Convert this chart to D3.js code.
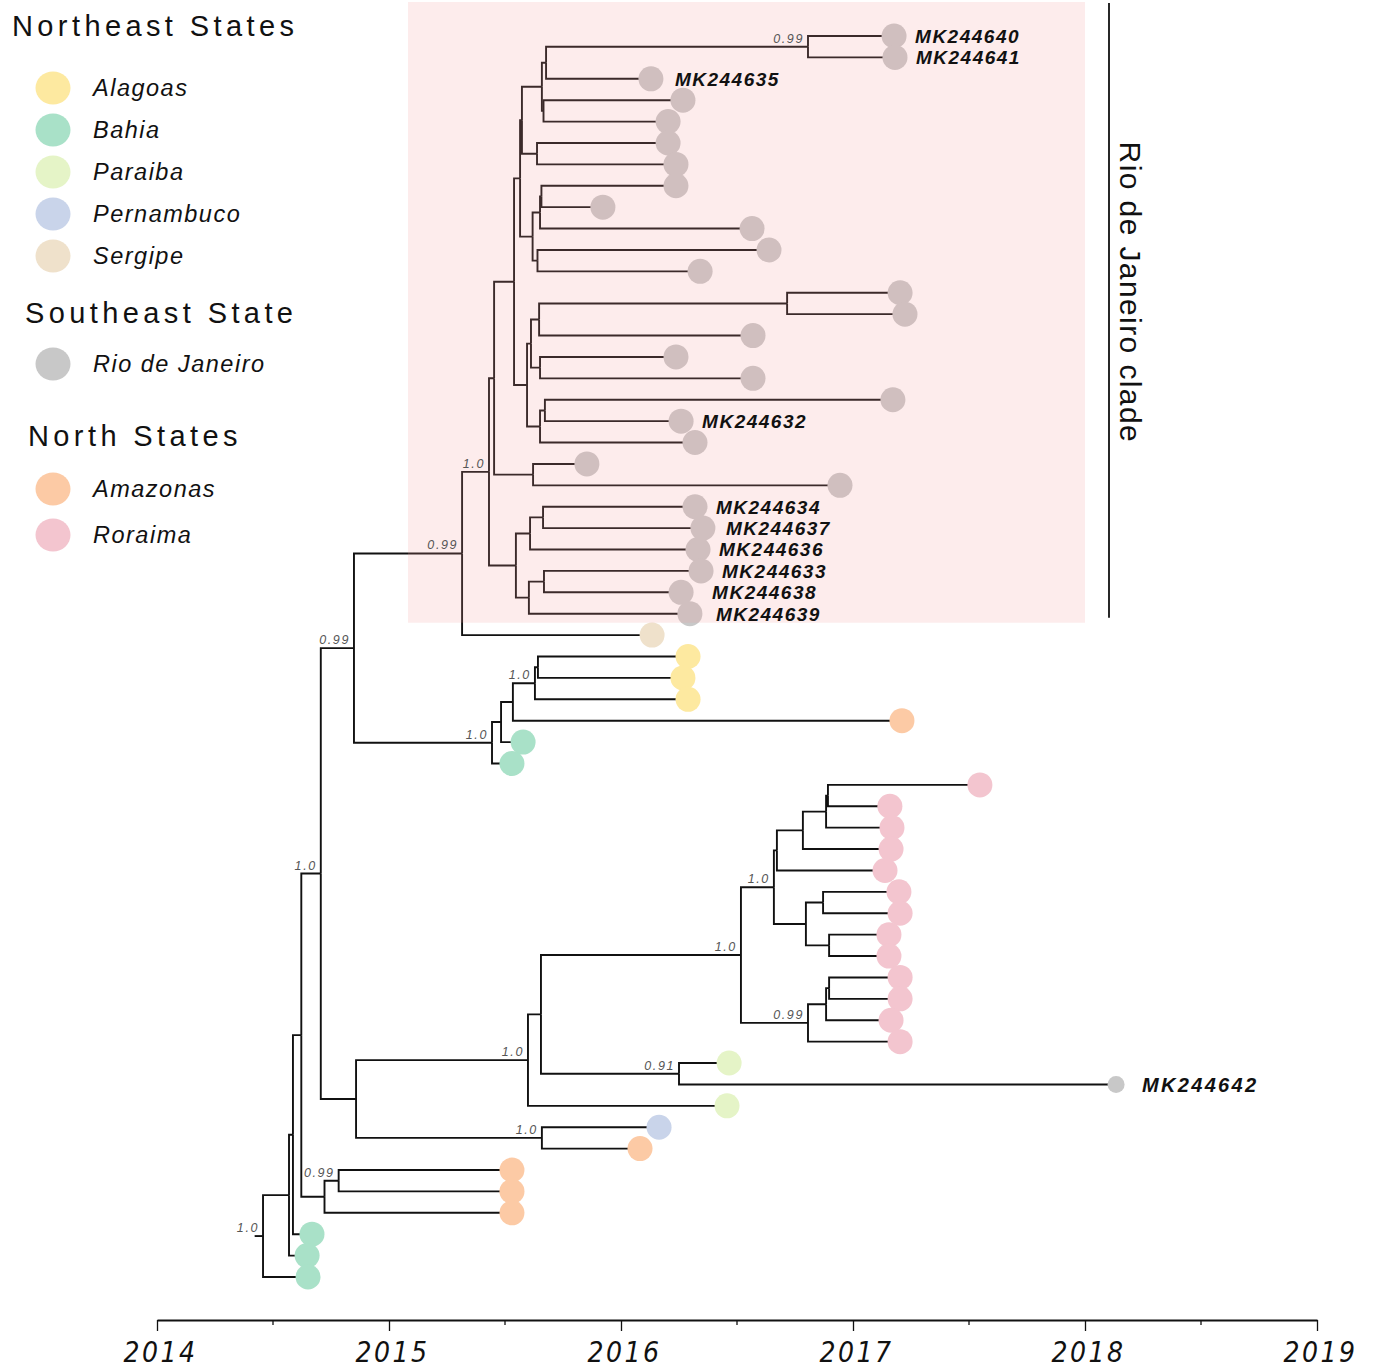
<!DOCTYPE html>
<html>
<head>
<meta charset="utf-8">
<script src="https://cdnjs.cloudflare.com/ajax/libs/d3/7.8.5/d3.min.js"></script>
<style>
  body { margin: 0; background: #fff; }
  svg { display: block; }
</style>
</head>
<body>
<script>
// sampling dates of the tips (decimal years), in drawing order top -> bottom
const tipYears = [
  2017.177, 2017.181, 2016.129, 2016.267, 2016.203, 2016.203, 2016.237, 2016.237,
  2015.922, 2016.565, 2016.638, 2016.341, 2017.203, 2017.224, 2016.569, 2016.237,
  2016.569, 2017.172, 2016.259, 2016.319, 2015.853, 2016.944, 2016.319, 2016.353,
  2016.332, 2016.345, 2016.259, 2016.297, 2016.134, 2016.289, 2016.267, 2016.289,
  2017.211, 2015.578, 2015.530, 2017.547, 2017.159, 2017.168, 2017.164, 2017.138,
  2017.198, 2017.203, 2017.155, 2017.155, 2017.203, 2017.203, 2017.164, 2017.203,
  2016.466, 2018.134, 2016.457, 2016.164, 2016.082, 2015.530, 2015.530, 2015.530,
  2014.668, 2014.647, 2014.651
]

const RJ = "Rio de Janeiro"
const tipStates = [
  RJ, RJ, RJ, RJ, RJ, RJ, RJ, RJ, RJ, RJ, RJ, RJ, RJ, RJ, RJ, RJ, RJ, RJ, RJ, RJ,
  RJ, RJ, RJ, RJ, RJ, RJ, RJ, RJ,
  "Sergipe", "Alagoas", "Alagoas", "Alagoas", "Amazonas", "Bahia", "Bahia",
  "Roraima", "Roraima", "Roraima", "Roraima", "Roraima", "Roraima", "Roraima",
  "Roraima", "Roraima", "Roraima", "Roraima", "Roraima", "Roraima",
  "Paraiba", RJ, "Paraiba", "Pernambuco", "Amazonas",
  "Amazonas", "Amazonas", "Amazonas", "Bahia", "Bahia", "Bahia"
]

const tipNames = [
  "MK244640", "MK244641", "MK244635", "", "", "", "", "", "", "", "", "", "", "", "", "", "", "",
  "MK244632", "", "", "", "MK244634", "MK244637", "MK244636", "MK244633", "MK244638", "MK244639",
  "", "", "", "", "", "", "", "", "", "", "", "", "", "", "", "", "", "", "", "",
  "", "MK244642", "", "", "", "", "", "", "", "", ""
]

// internal nodes: id, first child, second child, node date, posterior
const cladeRows = [
  ["a1", "t1", "t2", 2016.806, "0.99"],
  ["a2", "a1", "t3", 2015.677, ""],
  ["a3", "t4", "t5", 2015.666, ""],
  ["a4", "a2", "a3", 2015.659, ""],
  ["a5", "t6", "t7", 2015.638, ""],
  ["a6", "a4", "a5", 2015.573, ""],
  ["a7", "t8", "t9", 2015.657, ""],
  ["a8", "a7", "t10", 2015.651, ""],
  ["a9", "t11", "t12", 2015.640, ""],
  ["a10", "a8", "a9", 2015.619, ""],
  ["a11", "a6", "a10", 2015.565, ""],
  ["b1", "t13", "t14", 2016.716, ""],
  ["b2", "b1", "t15", 2015.647, ""],
  ["b3", "t16", "t17", 2015.651, ""],
  ["b4", "b2", "b3", 2015.612, ""],
  ["b5", "t18", "t19", 2015.672, ""],
  ["b6", "b5", "t20", 2015.651, ""],
  ["b7", "b4", "b6", 2015.595, ""],
  ["c1", "a11", "b7", 2015.539, ""],
  ["c2", "t21", "t22", 2015.621, ""],
  ["c3", "c1", "c2", 2015.453, ""],
  ["d1", "t23", "t24", 2015.664, ""],
  ["d2", "d1", "t25", 2015.608, ""],
  ["d3", "t26", "t27", 2015.668, ""],
  ["d4", "d3", "t28", 2015.603, ""],
  ["d5", "d2", "d4", 2015.547, ""],
  ["rj", "c3", "d5", 2015.431, "1.0"],
  ["e1", "rj", "t29", 2015.315, "0.99"],
  ["f1", "t30", "t31", 2015.642, ""],
  ["f2", "f1", "t32", 2015.629, "1.0"],
  ["f3", "f2", "t33", 2015.534, ""],
  ["f4", "f3", "t34", 2015.483, ""],
  ["f5", "f4", "t35", 2015.444, "1.0"],
  ["g1", "e1", "f5", 2014.849, "0.99"],
  ["h1", "t36", "t37", 2016.892, ""],
  ["h2", "h1", "t38", 2016.884, ""],
  ["h3", "h2", "t39", 2016.784, ""],
  ["h4", "h3", "t40", 2016.672, ""],
  ["h5", "t41", "t42", 2016.871, ""],
  ["h6", "t43", "t44", 2016.897, ""],
  ["h7", "h5", "h6", 2016.797, ""],
  ["h8", "h4", "h7", 2016.659, "1.0"],
  ["h9", "t45", "t46", 2016.897, ""],
  ["h10", "h9", "t47", 2016.884, ""],
  ["h11", "h10", "t48", 2016.806, "0.99"],
  ["h12", "h8", "h11", 2016.517, "1.0"],
  ["i1", "t49", "t50", 2016.250, "0.91"],
  ["i2", "h12", "i1", 2015.655, ""],
  ["i3", "i2", "t51", 2015.599, "1.0"],
  ["i4", "t52", "t53", 2015.659, "1.0"],
  ["i5", "i3", "i4", 2014.858, ""],
  ["j1", "g1", "i5", 2014.706, "1.0"],
  ["k1", "t54", "t55", 2014.783, "0.99"],
  ["k2", "k1", "t56", 2014.722, ""],
  ["k3", "j1", "k2", 2014.622, ""],
  ["k4", "k3", "t57", 2014.586, ""],
  ["k5", "k4", "t58", 2014.569, ""],
  ["root", "k5", "t59", 2014.457, "1.0"]
]
const rootStartYear = 2014.421

const yearTicks = [2014, 2015, 2016, 2017, 2018, 2019]
const halfYearTicks = [2014.5, 2015.5, 2016.5, 2017.5, 2018.5]

const northeastStates = ["Alagoas", "Bahia", "Paraiba", "Pernambuco", "Sergipe"]
const southeastStates = ["Rio de Janeiro"]
const northStates = ["Amazonas", "Roraima"]
const cladeTitle = "Rio de Janeiro clade"

const colors = {
  "Alagoas": "#fde9a0",
  "Bahia": "#a9e1c8",
  "Paraiba": "#e5f4c7",
  "Pernambuco": "#c9d4ea",
  "Sergipe": "#efe1cb",
  "Rio de Janeiro": "#c8c8c8",
  "Amazonas": "#fccaa5",
  "Roraima": "#f3c5cf"
}

const w = 1377
const h = 1369

const svg = d3.select("body")
  .append("svg")
  .attr("width", w)
  .attr("height", h)

const x = d3.scaleLinear().domain([2014, 2019]).range([157, 1317])
const row = d3.scaleLinear().domain([0, tipYears.length - 1]).range([36, 1277])

// building the tree
const byId = {}
tipYears.forEach((yr, i) => {
  byId["t" + (i + 1)] = { id: "t" + (i + 1), year: yr, state: tipStates[i], name: tipNames[i], row: i }
})
cladeRows.forEach(([id, a, b, yr, pp]) => {
  byId[id] = { id: id, year: yr, support: pp, children: [byId[a], byId[b]] }
})
const root = d3.hierarchy(byId["root"])
root.eachAfter(d => {
  d.px = x(d.data.year)
  if (d.children) {
    d.py = (d.children[0].py + d.children[d.children.length - 1].py) / 2
  } else {
    d.py = row(d.data.row)
  }
})

// clade box extent (rows of the Rio de Janeiro clade)
const rjNode = root.descendants().find(d => d.data.id === "rj")
const rjLeaves = rjNode.leaves()
const boxTop = rjLeaves[0].py - 34
const boxBottom = rjLeaves[rjLeaves.length - 1].py + 9

// branches
const branches = svg.append("g")
branches.selectAll("path")
  .data(root.links())
  .enter()
  .append("path")
  .attr("d", l => `M${l.source.px},${l.source.py}V${l.target.py}H${l.target.px}`)
  .attr("fill", "none")
  .attr("stroke", "#111")
  .attr("stroke-width", 1.9)

branches.append("path")
  .attr("d", `M${x(rootStartYear)},${root.py}H${root.px}`)
  .attr("stroke", "#111")
  .attr("stroke-width", 1.9)

// tips
const rjIds = new Set(rjLeaves.map(d => d.data.id))
svg.append("g")
  .selectAll("circle")
  .data(root.leaves())
  .enter()
  .append("circle")
  .attr("cx", d => d.px)
  .attr("cy", d => d.py)
  .attr("r", d => (d.data.state === RJ && !rjIds.has(d.data.id)) ? 8.5 : 12.5)
  .attr("fill", d => colors[d.data.state])

// pink clade shading on top
svg.append("rect")
  .attr("x", 408)
  .attr("y", boxTop)
  .attr("width", x(2018) - 408)
  .attr("height", boxBottom - boxTop)
  .attr("fill", "#f39c9c")
  .attr("opacity", 0.19)

svg.append("line")
  .attr("x1", 1109).attr("x2", 1109)
  .attr("y1", boxTop + 1).attr("y2", boxBottom - 5)
  .attr("stroke", "#111")
  .attr("stroke-width", 1.8)

svg.append("text")
  .attr("transform", `translate(1120, ${(boxTop + boxBottom) / 2 - 20}) rotate(90)`)
  .attr("text-anchor", "middle")
  .style("font-family", "'Liberation Sans', Arial, sans-serif")
  .style("font-size", "30px")
  .style("letter-spacing", "1.4px")
  .attr("fill", "#111")
  .text(cladeTitle)

// tip labels (a few sit a little further right in the original)
const labelNudge = { "MK244635": 3, "MK244637": 2, "MK244638": 10, "MK244639": 5 }
svg.append("g")
  .selectAll("text")
  .data(root.leaves().filter(d => d.data.name))
  .enter()
  .append("text")
  .attr("x", d => d.px + (rjIds.has(d.data.id) ? 21 : 26) + (labelNudge[d.data.name] || 0))
  .attr("y", d => d.py)
  .attr("dy", "0.36em")
  .style("font-family", "'Liberation Sans', Arial, sans-serif")
  .style("font-weight", "bold")
  .style("font-style", "italic")
  .style("font-size", d => rjIds.has(d.data.id) ? "19px" : "20px")
  .style("letter-spacing", d => rjIds.has(d.data.id) ? "1.5px" : "2.3px")
  .attr("fill", "#111")
  .text(d => d.data.name)

// posterior support
svg.append("g")
  .selectAll("text")
  .data(root.descendants().filter(d => d.data.support))
  .enter()
  .append("text")
  .attr("x", d => d.px - 4)
  .attr("y", d => d.py - 4)
  .attr("text-anchor", "end")
  .style("font-family", "'Liberation Sans', Arial, sans-serif")
  .style("font-style", "italic")
  .style("font-size", "12.5px")
  .style("letter-spacing", "1.6px")
  .attr("fill", "#555")
  .text(d => d.data.support)

// time axis
const axisY = 1320
const xAxis = d3.axisBottom(x)
  .tickValues(yearTicks)
  .tickSize(11)
  .tickSizeOuter(0)
  .tickFormat(d3.format("d"))

const axisG = svg.append("g")
  .attr("transform", `translate(0, ${axisY})`)
  .call(xAxis)

axisG.select(".domain").attr("stroke", "#111").attr("stroke-width", 2)
axisG.selectAll(".tick line").attr("stroke", "#111").attr("stroke-width", 1.3)
axisG.selectAll(".tick text")
  .attr("x", 3)
  .attr("y", 42)
  .attr("dy", 0)
  .attr("fill", "#111")
  .style("font-family", "'Liberation Sans Narrow', 'DejaVu Sans Condensed', sans-serif")
  .style("font-style", "italic")
  .style("font-size", "28px")
  .style("letter-spacing", "2.5px")

axisG.selectAll(".minor")
  .data(halfYearTicks)
  .enter()
  .append("line")
  .attr("class", "minor")
  .attr("x1", d => x(d)).attr("x2", d => x(d))
  .attr("y1", 0).attr("y2", 5)
  .attr("stroke", "#111")
  .attr("stroke-width", 1.3)

// legend
const legend = svg.append("g").attr("id", "legend")
const legendBlocks = [
  { title: "Northeast States", items: northeastStates, tx: 12, ty: 36, iy: 88 },
  { title: "Southeast State", items: southeastStates, tx: 25, ty: 323, iy: 364 },
  { title: "North States", items: northStates, tx: 28, ty: 446, iy: 489 }
]
legendBlocks.forEach(b => {
  legend.append("text")
    .attr("x", b.tx)
    .attr("y", b.ty)
    .style("font-family", "'Liberation Sans', Arial, sans-serif")
    .style("font-size", "29px")
    .style("letter-spacing", "4.4px")
    .attr("fill", "#111")
    .text(b.title)

  b.items.forEach((s, i) => {
    const cy = b.iy + i * (b.items.length > 2 ? 42 : 46)
    legend.append("ellipse")
      .attr("cx", 53)
      .attr("cy", cy)
      .attr("rx", 17.5)
      .attr("ry", 16.5)
      .attr("fill", colors[s])
    legend.append("text")
      .attr("x", 93)
      .attr("y", cy)
      .attr("dy", "0.36em")
      .style("font-family", "'Liberation Sans', Arial, sans-serif")
      .style("font-style", "italic")
      .style("font-size", "23.5px")
      .style("letter-spacing", "1.5px")
      .attr("fill", "#111")
      .text(s)
  })
})
</script>
</body>
</html>
